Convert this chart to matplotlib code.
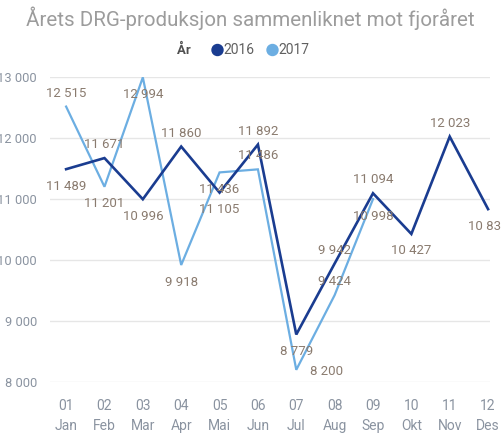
import matplotlib
matplotlib.use("Agg")
import matplotlib.pyplot as plt

months = ["01\nJan", "02\nFeb", "03\nMar", "04\nApr", "05\nMai", "06\nJun",
          "07\nJul", "08\nAug", "09\nSep", "10\nOkt", "11\nNov", "12\nDes"]
v2016 = [11489, 11671, 10996, 11860, 11105, 11892, 8779, 9942, 11094, 10427, 12023, 10834]
v2017 = [12515, 11201, 12994, 9918, 11436, 11486, 8200, 9424, 10998]
pos2016 = ["below", "above", "below", "above", "below", "above", "below", "above", "above", "below", "above", "below"]
pos2017 = ["above", "below", "below", "below", "below", "above", "right", "above", "below"]
yticks = [8000, 9000, 10000, 11000, 12000, 13000]

plt.rcParams['font.family'] = ['Roboto', 'DejaVu Sans']

C16 = '#1a3c90'
C17 = '#6caee2'
LBL = '#8a7b6f'
TICK = '#8a93a0'

fig = plt.figure(figsize=(5.01, 4.34), dpi=100)
ax = fig.add_axes([50 / 501, 52 / 434, 440 / 501, 305 / 434])

x16 = list(range(len(v2016)))
x17 = list(range(len(v2017)))
ax.plot(x16, v2016, color=C16, lw=1.9, clip_on=False, zorder=3, solid_joinstyle='miter')
ax.plot(x17, v2017, color=C17, lw=1.6, clip_on=False, zorder=2, solid_joinstyle='miter')

def fmt(v):
    return f"{v:,}".replace(",", " ")

offs = {"above": (0, 13.5), "below": (0, -17), "right": (30, -2)}
for xs, vs, ps in ((x16, v2016, pos2016), (x17, v2017, pos2017)):
    for xi, v, p in zip(xs, vs, ps):
        ax.annotate(fmt(v), (xi, v), xytext=offs[p], textcoords='offset pixels',
                    ha='center', va='center', fontsize=9.5, color=LBL,
                    annotation_clip=False, zorder=4)

ax.set_xlim(-0.42, 11.05)
ax.set_ylim(8000, 13000)
ax.set_yticks(yticks)
ax.set_yticklabels([fmt(t) for t in yticks])
ax.set_xticks(range(len(months)))
ax.set_xticklabels(months, linespacing=1.55)
ax.tick_params(axis='both', length=0, colors=TICK)
ax.tick_params(axis='y', pad=9.5, labelsize=9.3)
ax.tick_params(axis='x', pad=12, labelsize=10)
ax.grid(axis='y', color='#e6e6e6', lw=1)
ax.set_axisbelow(True)
for s in ax.spines.values():
    s.set_visible(False)

fig.text(250 / 501, 1 - 18 / 434, "Årets DRG-produksjon sammenliknet mot fjoråret",
         ha='center', va='center', fontsize=14.8, color='#9c9c9c')

# legend
ly = 1 - 50 / 434
fig.text(184 / 501, ly, "År", ha='center', va='center', fontsize=9.5,
         fontweight='bold', color='#505050')
fig.add_artist(matplotlib.patches.Ellipse((217.5 / 501, ly), 11 / 501, 11 / 434,
                                          color=C16, transform=fig.transFigure))
fig.text(223 / 501, ly, "2016", ha='left', va='center', fontsize=10, color='#606060')
fig.add_artist(matplotlib.patches.Ellipse((272.5 / 501, ly), 11 / 501, 11 / 434,
                                          color=C17, transform=fig.transFigure))
fig.text(278 / 501, ly, "2017", ha='left', va='center', fontsize=10, color='#606060')

fig.savefig("out.png", dpi=100)
